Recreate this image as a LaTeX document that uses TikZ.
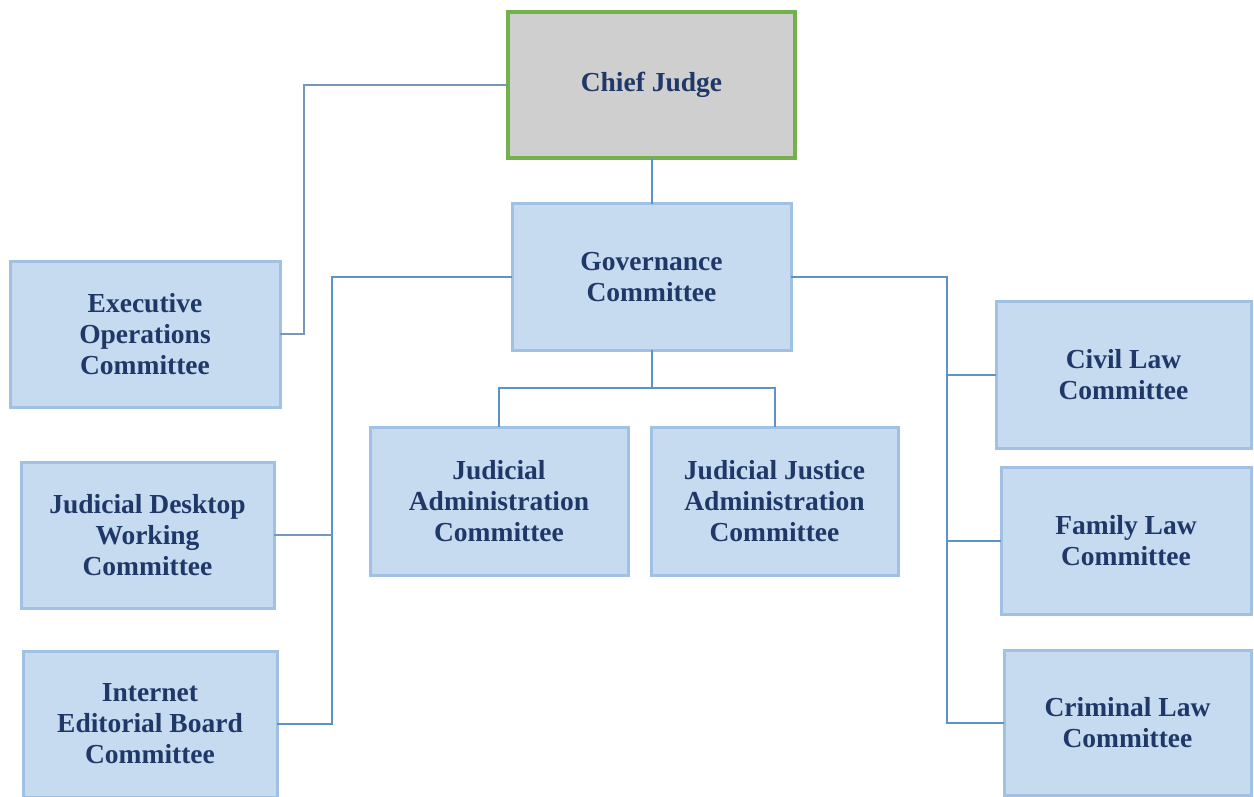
\documentclass[tikz,border=0pt]{standalone}
\usepackage{fontspec}
\setmainfont{Liberation Serif}
\begin{document}
\definecolor{boxfill}{RGB}{198,218,240}
\definecolor{boxedge}{RGB}{160,192,228}
\definecolor{chieffill}{RGB}{207,207,207}
\definecolor{chiefedge}{RGB}{116,176,78}
\definecolor{labeltext}{RGB}{31,56,104}
\definecolor{linkblue}{RGB}{94,146,204}
\definecolor{linkgrey}{RGB}{120,150,185}
\begin{tikzpicture}[x=1pt,y=-1pt,
  unit/.style={rectangle, fill=boxfill, draw=boxedge, line width=3pt,
    inner sep=0pt, outer sep=0pt, align=center, text=labeltext,
    font=\fontsize{27.5}{31}\selectfont\bfseries},
  chief/.style={unit, fill=chieffill, draw=chiefedge, line width=4pt},
  link/.style={draw=linkblue, line width=2pt},
  linkg/.style={draw=linkgrey, line width=2pt}]
\useasboundingbox[fill=white] (0,0) rectangle (1254,797);

% connectors, drawn first so the boxes sit on top of them
\coordinate (lbus) at (332,277);
\coordinate (rbus) at (947,277);
\coordinate (cbus) at (651.5,388);
\coordinate (ebend) at (304,85);

% top level
\node[chief, minimum width=287pt, minimum height=146pt] (chief) at (651.5,85) {Chief Judge};
\node[unit, minimum width=279pt, minimum height=146pt] (gov) at (651.5,277) {Governance\\Committee};

% left column
\node[unit, minimum width=270pt, minimum height=146pt] (exec) at (145,334) {Executive\\Operations\\Committee};
\node[unit, minimum width=253pt, minimum height=146pt] (desk) at (147.5,535) {Judicial Desktop\\Working\\Committee};
\node[unit, minimum width=254pt, minimum height=146pt] (web) at (150,724) {Internet\\Editorial Board\\Committee};

% centre row
\node[unit, minimum width=258pt, minimum height=148pt] (jadm) at (499,501) {Judicial\\Administration\\Committee};
\node[unit, minimum width=247pt, minimum height=148pt] (jjadm) at (774.5,501) {Judicial Justice\\Administration\\Committee};

% right column
\node[unit, minimum width=255pt, minimum height=147pt] (civil) at (1123.5,374.5) {Civil Law\\Committee};
\node[unit, minimum width=250pt, minimum height=147pt] (family) at (1126,540.5) {Family Law\\Committee};
\node[unit, minimum width=247pt, minimum height=145pt] (crim) at (1127.5,722.5) {Criminal Law\\Committee};

% chief judge links
\draw[linkg] (chief.west) -- (ebend) |- (exec.east);
\draw[link] (chief.south) -- (gov.north);

% left bus
\draw[link] (gov.west) -- (lbus) |- (web.east);
\draw[linkg] (lbus |- desk.east) -- (desk.east);

% right bus
\draw[link] (gov.east) -- (rbus) |- (crim.west);
\draw[link] (rbus |- civil.west) -- (civil.west);
\draw[link] (rbus |- family.west) -- (family.west);

% centre branch
\draw[link] (gov.south) -- (cbus);
\draw[link] (jadm.north) |- (cbus) -| (jjadm.north);
\end{tikzpicture}
\end{document}
